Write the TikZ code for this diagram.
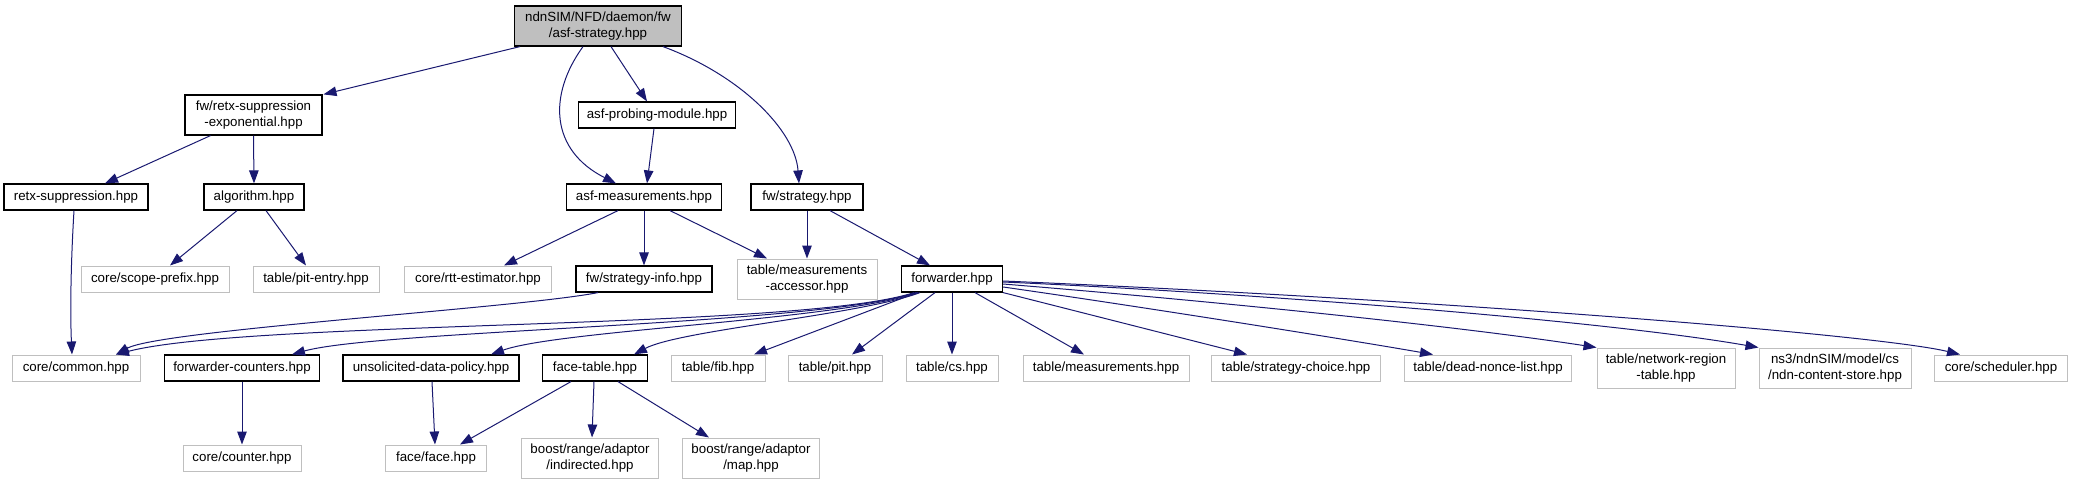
\documentclass[tikz,border=0pt]{standalone}
\usepackage{fontspec}
\setmainfont{Liberation Sans}
\usetikzlibrary{arrows.meta}
\definecolor{edgecol}{HTML}{191970}
\definecolor{greybox}{HTML}{BFBFBF}
\begin{document}
\begin{tikzpicture}[x=1pt,y=-1pt,
  box/.style={draw=black, line width=1.2pt, inner sep=0pt, minimum height=26pt, align=center, font=\fontsize{13.3}{16}\selectfont, fill=white},
  ext/.style={box, draw=greybox, line width=1pt},
  tall/.style={minimum height=40pt},
  edge/.style={draw=edgecol, line width=1pt, -{Triangle[length=13pt,width=9.5pt]}}]
\useasboundingbox (0,0) rectangle (2073,484);
% row 0
\node[box, fill=greybox, minimum width=167pt, tall] (root) at (598,26) {ndnSIM/NFD/daemon/fw\\/asf-strategy.hpp};
% row 1
\node[box, minimum width=137pt, tall] (rexp) at (253.5,115) {fw/retx-suppression\\-exponential.hpp};
\node[box, minimum width=157pt] (probe) at (657,115) {asf-probing-module.hpp};
% row 2
\node[box, minimum width=144pt] (rsup) at (76,197) {retx-suppression.hpp};
\node[box, minimum width=100pt] (algo) at (254,197) {algorithm.hpp};
\node[box, minimum width=155pt] (meas) at (644,197) {asf-measurements.hpp};
\node[box, minimum width=112pt] (strat) at (807,197) {fw/strategy.hpp};
% row 3
\node[ext, minimum width=148pt] (scope) at (155,279) {core/scope-prefix.hpp};
\node[ext, minimum width=126pt] (pite) at (316,279) {table/pit-entry.hpp};
\node[ext, minimum width=147pt] (rtt) at (478,279) {core/rtt-estimator.hpp};
\node[box, minimum width=136pt] (sinfo) at (644,279) {fw/strategy-info.hpp};
\node[ext, minimum width=140pt, tall] (macc) at (807,279) {table/measurements\\-accessor.hpp};
\node[box, minimum width=101pt] (fwd) at (952,279) {forwarder.hpp};
% row 4
\node[ext, minimum width=128pt] (common) at (76,368) {core/common.hpp};
\node[box, minimum width=155pt] (fcnt) at (242,368) {forwarder-counters.hpp};
\node[box, minimum width=176pt] (udp) at (431,368) {unsolicited-data-policy.hpp};
\node[box, minimum width=105pt] (ftab) at (595,368) {face-table.hpp};
\node[ext, minimum width=94pt] (fib) at (718,368) {table/fib.hpp};
\node[ext, minimum width=94pt] (pit) at (835,368) {table/pit.hpp};
\node[ext, minimum width=92pt] (cs) at (952,368) {table/cs.hpp};
\node[ext, minimum width=166pt] (tmeas) at (1106,368) {table/measurements.hpp};
\node[ext, minimum width=169pt] (sc) at (1296,368) {table/strategy-choice.hpp};
\node[ext, minimum width=167pt] (dnl) at (1488,368) {table/dead-nonce-list.hpp};
\node[ext, minimum width=138pt, tall] (nrt) at (1666,368) {table/network-region\\-table.hpp};
\node[ext, minimum width=152pt, tall] (ncs) at (1835,368) {ns3/ndnSIM/model/cs\\/ndn-content-store.hpp};
\node[ext, minimum width=133pt] (sched) at (2001,368) {core/scheduler.hpp};
% row 5
\node[ext, minimum width=118pt] (counter) at (242,458) {core/counter.hpp};
\node[ext, minimum width=101pt] (face) at (436,458) {face/face.hpp};
\node[ext, minimum width=137pt, tall] (indir) at (590,458) {boost/range/adaptor\\/indirected.hpp};
\node[ext, minimum width=137pt, tall] (map) at (751,458) {boost/range/adaptor\\/map.hpp};
% edges
\draw[edge] ([xshift=-78pt]root.south) -- ([xshift=70pt]rexp.north);
\draw[edge] ([xshift=-15pt]root.south) .. controls (548,95) and (550,150) .. ([xshift=-28pt]meas.north);
\draw[edge] ([xshift=13pt]root.south) -- ([xshift=-10pt]probe.north);
\draw[edge] ([xshift=65pt]root.south) .. controls (740,75) and (795,130) .. ([xshift=-8pt]strat.north);
\draw[edge] ([xshift=-43pt]rexp.south) -- ([xshift=29pt]rsup.north);
\draw[edge] (rexp.south) -- (algo.north);
\draw[edge] ([xshift=-3pt]probe.south) -- ([xshift=3pt]meas.north);
\draw[edge] ([xshift=-26pt]meas.south) -- ([xshift=26pt]rtt.north);
\draw[edge] (meas.south) -- (sinfo.north);
\draw[edge] ([xshift=26pt]meas.south) -- ([xshift=-40pt]macc.north);
\draw[edge] (strat.south) -- (macc.north);
\draw[edge] ([xshift=23pt]strat.south) -- ([xshift=-22pt]fwd.north);
\draw[edge] ([xshift=-2pt]rsup.south) .. controls (71,260) and (70,310) .. ([xshift=-4pt]common.north);
\draw[edge] ([xshift=-17pt]algo.south) -- ([xshift=15pt]scope.north);
\draw[edge] ([xshift=12pt]algo.south) -- ([xshift=-10pt]pite.north);
\draw[edge] ([xshift=-46pt]sinfo.south) .. controls (520,308) and (160,330) .. ([xshift=40pt]common.north);
\draw[edge] ([xshift=-38pt]fwd.south) .. controls (800,330) and (250,320) .. ([xshift=40pt]common.north);
\draw[edge] ([xshift=-36pt]fwd.south) .. controls (820,325) and (380,330) .. ([xshift=50pt]fcnt.north);
\draw[edge] ([xshift=-34pt]fwd.south) .. controls (840,320) and (560,330) .. ([xshift=60pt]udp.north);
\draw[edge] ([xshift=-32pt]fwd.south) .. controls (860,315) and (680,330) .. ([xshift=39pt]ftab.north);
\draw[edge] ([xshift=-35pt]fwd.south) -- ([xshift=36pt]fib.north);
\draw[edge] ([xshift=-17pt]fwd.south) -- ([xshift=17pt]pit.north);
\draw[edge] (fwd.south) -- (cs.north);
\draw[edge] ([xshift=23pt]fwd.south) -- ([xshift=-22pt]tmeas.north);
\draw[edge] (fwd.south east) -- ([xshift=-49pt]sc.north);
\draw[edge] ([yshift=-8pt]fwd.east) .. controls (1150,308) and (1350,340) .. ([xshift=-55pt]dnl.north);
\draw[edge] ([yshift=-5pt]fwd.east) .. controls (1200,300) and (1450,325) .. (nrt.north west);
\draw[edge] ([yshift=-3pt]fwd.east) .. controls (1250,293) and (1600,320) .. (ncs.north west);
\draw[edge] ([yshift=-2pt]fwd.east) .. controls (1450,300) and (1880,335) .. ([xshift=-41pt]sched.north);
\draw[edge] (fcnt.south) -- (counter.north);
\draw[edge] ([xshift=1pt]udp.south) -- ([xshift=-1pt]face.north);
\draw[edge] ([xshift=-24pt]ftab.south) -- ([xshift=24pt]face.north);
\draw[edge] ([xshift=-1pt]ftab.south) -- ([xshift=2pt]indir.north);
\draw[edge] ([xshift=23pt]ftab.south) -- ([xshift=-42pt]map.north);
\end{tikzpicture}
\end{document}
